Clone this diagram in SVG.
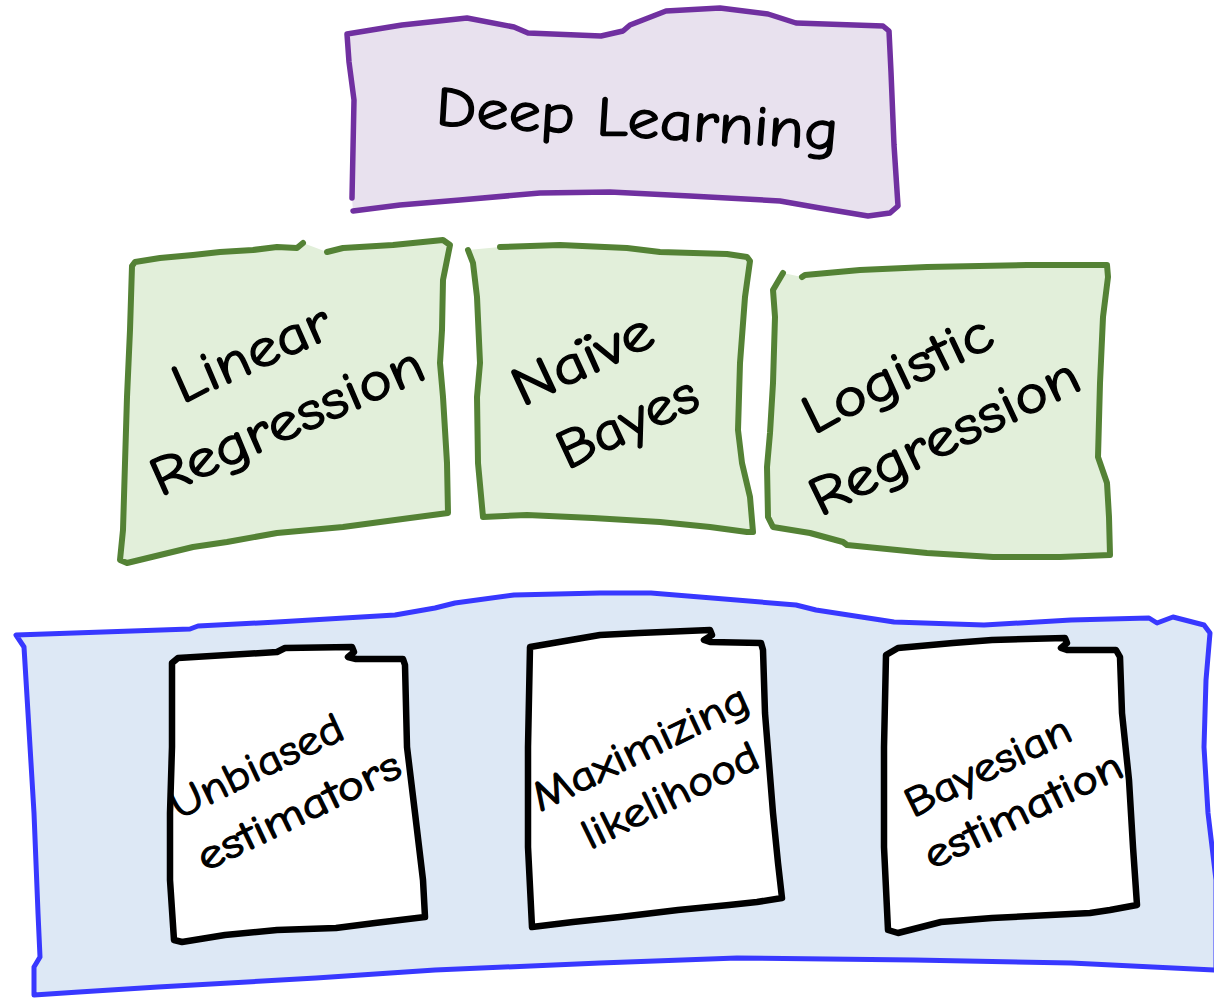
<svg xmlns="http://www.w3.org/2000/svg" width="1214" height="999" viewBox="0 0 1214 999">
  <style>
    .lbl { font-family: "Comic Sans MS", "Comic Neue", "Noto Sans", sans-serif; fill: #000; stroke: #000; stroke-width: 1.3; stroke-linejoin: round; }
    .big { font-size: 56px; }
    .mid { font-size: 55px; }
    .small { font-size: 42px; stroke-width: 1.1; }
    .edge { fill: none; stroke-linejoin: round; stroke-linecap: round; }
    .top-fill { fill: #e8e1ee; stroke: none; }
    .top-line { stroke: #7030a0; stroke-width: 5.5; }
    .algo-fill { fill: #e2efda; stroke: none; }
    .algo-line { stroke: #548235; stroke-width: 6; }
    .base { fill: #dde8f5; stroke: #3838ff; stroke-width: 5; stroke-linejoin: round; }
    .card { fill: #ffffff; stroke: #000; stroke-width: 6.5; stroke-linejoin: round; }
  </style>

  <!-- foundation panel -->
  <g id="foundations">
    <path class="base" d="M16,635 L190,629 L198,626 L277,622 L395,615 L435,608 L455,603 L514,595 L600,593 L651,593 L796,605 L816,610 L894,622 L984,625 L1071,620 L1149,618 L1157,623 L1173,617 L1204,625 L1210,633 L1206,680 L1204,747 L1208,813 L1216,880 L1216,970 L1071,963 L914,960 L737,958 L600,963 L435,970 L316,978 L158,987 L79,992 L34,995 L34,967 L40,957 L38,913 L34,813 L28,713 L24,647 Z"/>
  </g>

  <!-- top concept -->
  <g id="deep-learning">
    <path class="top-fill" d="M347,34 L402,25 L467,18 L514,27 L528,33 L601,36 L623,31 L630,25 L648,18 L666,11 L720,8 L768,14 L796,23 L883,26 L889,31 L891,72 L894,145 L898,206 L890,213 L868,216 L820,208 L780,201 L690,196 L610,192 L540,193 L460,200 L400,205 L353,211 L352,198 L354,100 L349,62 Z"/>
    <path class="edge top-line" d="M352,198 L354,100 L349,62 L347,34 L402,25 L467,18 L514,27 L528,33 L601,36 L623,31 L630,25 L648,18 L666,11 L720,8 L768,14 L796,23 L883,26 L889,31 L891,72 L894,145 L898,206 L890,213 L868,216 L820,208 L780,201 L690,196 L610,192 L540,193 L460,200 L400,205 L353,211"/>
    <text class="lbl big" transform="translate(435,125) rotate(3.5)" textLength="403" lengthAdjust="spacingAndGlyphs">Deep Learning</text>
  </g>

  <!-- model families -->
  <g id="linear-regression">
    <path class="algo-fill" d="M132,263 L160,258 L193,255 L220,252 L253,250 L277,247 L297,248 L303,243 L327,252 L343,248 L393,245 L443,240 L450,244 L443,280 L442,330 L440,363 L443,397 L447,463 L448,513 L410,518 L343,527 L277,533 L227,542 L193,547 L160,555 L127,563 L120,560 L123,530 L125,463 L127,397 L130,330 Z"/>
    <path class="edge algo-line" d="M303,243 L297,248 L277,247 L253,250 L220,252 L193,255 L160,258 L135,262 L132,266 L130,330 L127,397 L125,463 L123,530 L120,560 L127,563 L160,555 L193,547 L227,542 L277,533 L343,527 L410,518 L448,513 L447,463 L443,397 L440,363 L442,330 L443,280 L450,245 L443,240 L393,245 L343,248 L327,252"/>
    <text class="lbl mid" transform="translate(182,404) rotate(-24)" textLength="168" lengthAdjust="spacingAndGlyphs">Linear</text>
    <text class="lbl mid" transform="translate(160,497) rotate(-24)" textLength="294" lengthAdjust="spacingAndGlyphs">Regression</text>
  </g>

  <g id="naive-bayes">
    <path class="algo-fill" d="M468,250 L500,247 L560,245 L627,248 L660,252 L727,254 L747,257 L750,261 L745,297 L740,363 L738,430 L742,463 L750,497 L753,532 L747,532 L710,527 L660,522 L593,518 L527,515 L483,517 L478,463 L477,397 L480,363 L477,297 L473,263 Z"/>
    <path class="edge algo-line" d="M500,247 L560,245 L627,248 L660,252 L727,254 L747,257 L750,261 L745,297 L740,363 L738,430 L742,463 L750,497 L753,532 L747,532 L710,527 L660,522 L593,518 L527,515 L483,517 L478,463 L477,397 L480,363 L477,297 L473,263 L468,250"/>
    <text class="lbl mid" transform="translate(522,407) rotate(-25)" textLength="150" lengthAdjust="spacingAndGlyphs">Naïve</text>
    <text class="lbl mid" transform="translate(567,470) rotate(-25)" textLength="150" lengthAdjust="spacingAndGlyphs">Bayes</text>
  </g>

  <g id="logistic-regression">
    <path class="algo-fill" d="M783,273 L802,277 L805,275 L860,270 L927,267 L1027,265 L1107,265 L1108,277 L1103,317 L1100,383 L1098,457 L1107,483 L1109,517 L1110,555 L1060,557 L993,557 L927,553 L847,545 L843,542 L810,533 L773,527 L768,517 L767,467 L770,433 L773,383 L775,317 L773,290 Z"/>
    <path class="edge algo-line" d="M783,273 L773,290 L775,317 L773,383 L770,433 L767,467 L768,517 L773,527 L810,533 L843,542 L847,545 L927,553 L993,557 L1060,557 L1110,555 L1109,517 L1107,483 L1098,457 L1100,383 L1103,317 L1108,277 L1107,265 L1027,265 L927,267 L860,270 L805,275 L802,277"/>
    <text class="lbl mid" transform="translate(813,435) rotate(-26)" textLength="205" lengthAdjust="spacingAndGlyphs">Logistic</text>
    <text class="lbl mid" transform="translate(820,517) rotate(-26)" textLength="294" lengthAdjust="spacingAndGlyphs">Regression</text>
  </g>

  <!-- estimation principles -->
  <g id="unbiased-estimators">
    <path class="card" d="M172,663 L178,658 L277,652 L285,648 L352,647 L354,652 L348,657 L356,659 L403,659 L405,665 L407,747 L415,813 L423,880 L425,917 L375,923 L336,928 L277,930 L225,935 L182,942 L174,940 L170,880 L170,813 L172,747 Z"/>
    <text class="lbl small" transform="translate(178,820) rotate(-26)" textLength="188" lengthAdjust="spacingAndGlyphs">Unbiased</text>
    <text class="lbl small" transform="translate(205,872) rotate(-26)" textLength="222" lengthAdjust="spacingAndGlyphs">estimators</text>
  </g>

  <g id="maximizing-likelihood">
    <path class="card" d="M530,647 L600,635 L639,633 L710,630 L712,635 L704,640 L710,642 L761,643 L763,650 L765,713 L773,813 L778,863 L782,898 L757,902 L729,905 L678,910 L620,917 L573,922 L532,927 L528,847 L528,747 Z"/>
    <text class="lbl small" transform="translate(540,812) rotate(-26)" textLength="236" lengthAdjust="spacingAndGlyphs">Maximizing</text>
    <text class="lbl small" transform="translate(590,850) rotate(-26)" textLength="192" lengthAdjust="spacingAndGlyphs">likelihood</text>
  </g>

  <g id="bayesian-estimation">
    <path class="card" d="M886,655 L898,648 L953,643 L992,640 L1065,638 L1067,643 L1061,648 L1067,650 L1116,650 L1120,657 L1122,713 L1129,780 L1133,847 L1137,905 L1110,910 L1090,913 L992,918 L941,922 L898,933 L888,930 L884,847 L884,747 Z"/>
    <text class="lbl small" transform="translate(913,818) rotate(-26)" textLength="180" lengthAdjust="spacingAndGlyphs">Bayesian</text>
    <text class="lbl small" transform="translate(932,870) rotate(-26)" textLength="216" lengthAdjust="spacingAndGlyphs">estimation</text>
  </g>

  <!-- no connectors are drawn between the tiers -->
  <g id="connectors"/>
</svg>
